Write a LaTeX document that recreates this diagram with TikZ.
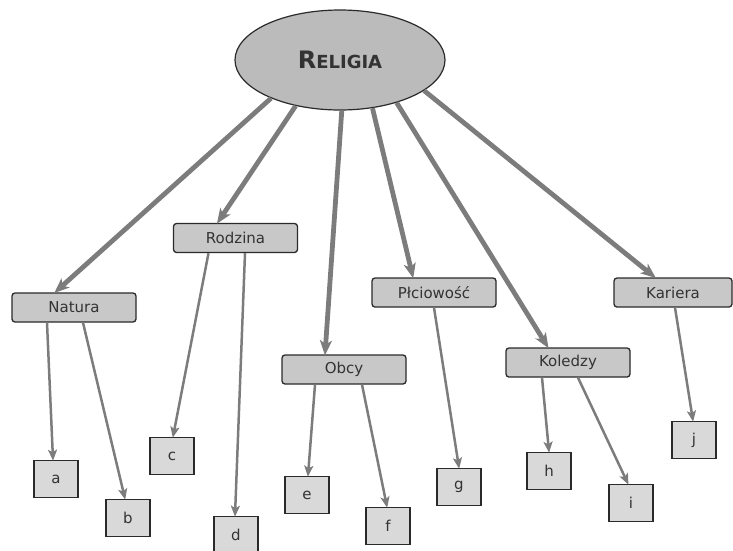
\documentclass[tikz,border=0pt]{standalone}
\usepackage{fontspec}
\setmainfont{DejaVu Sans}
\usetikzlibrary{arrows.meta,shapes.geometric}

\definecolor{edgegray}{HTML}{7C7C7C}
\definecolor{rootfill}{HTML}{BBBBBB}
\definecolor{topicfill}{HTML}{C8C8C8}
\definecolor{leaffill}{HTML}{D9D9D9}
\definecolor{inkline}{HTML}{2A2A2A}

\tikzset{
  root/.style={ellipse, draw=inkline, line width=1.2pt, fill=rootfill,
    minimum width=210pt, minimum height=100pt, inner sep=0pt},
  topic/.style={rectangle, rounded corners=3pt, draw=inkline, line width=1.3pt,
    fill=topicfill, minimum width=124pt, minimum height=29pt, inner sep=0pt,
    font=\fontsize{15}{17}\selectfont, text=black!80},
  leaf/.style={rectangle, draw=inkline, line width=1.6pt, fill=leaffill,
    minimum width=44pt, minimum height=37pt, inner sep=0pt,
    font=\fontsize{15}{17}\selectfont, text=black!80},
  mainlink/.style={draw=edgegray, line width=4.8pt,
    -{Stealth[length=15pt,width=12pt,inset=4pt]}, shorten >=-1pt},
  sublink/.style={draw=edgegray, line width=2.5pt,
    -{Stealth[length=11pt,width=9pt,inset=2.5pt]}, shorten >=-1pt},
}

\begin{document}
\begin{tikzpicture}[x=1pt, y=-1pt]
  \useasboundingbox (0,0) rectangle (733,550);

  % central concept
  \node[root] (rel) at (340,60)
    {\textcolor{black!80}{\fontsize{24}{26}\selectfont\bfseries R\fontsize{18}{26}\selectfont ELIGIA}};

  % first level
  \node[topic] (natura)    at (74,307.5)  {Natura};
  \node[topic] (rodzina)   at (235.5,238) {Rodzina};
  \node[topic] (obcy)      at (344,369.5) {Obcy};
  \node[topic] (plciowosc) at (434,292.5) {Płciowość};
  \node[topic] (koledzy)   at (568,362.5) {Koledzy};
  \node[topic, minimum width=118pt] (kariera) at (673,292.5) {Kariera};

  % second level
  \node[leaf] (a) at (56,479)  {a};
  \node[leaf] (b) at (128,518) {b};
  \node[leaf] (c) at (172,456) {c};
  \node[leaf] (d) at (236,535) {d};
  \node[leaf] (e) at (307,495) {e};
  \node[leaf] (f) at (388,526) {f};
  \node[leaf] (g) at (459,487) {g};
  \node[leaf] (h) at (549,471) {h};
  \node[leaf] (i) at (631,503) {i};
  \node[leaf] (j) at (694,440) {j};

  % links from the centre
  \draw[mainlink] (rel.209)   -- ([xshift=-19pt]natura.north);
  \draw[mainlink] (rel.226)   -- ([xshift=-18pt]rodzina.north);
  \draw[mainlink] (rel.272)   -- ([xshift=-19pt]obcy.north);
  \draw[mainlink] (rel.304.5) -- ([xshift=-21pt]plciowosc.north);
  \draw[mainlink] (rel.323.7) -- ([xshift=-20pt]koledzy.north);
  \draw[mainlink] (rel.340)   -- ([xshift=-18pt]kariera.north);

  % links to the leaves
  \draw[sublink] ([xshift=-27pt]natura.south)  -- ([xshift=-3pt]a.north);
  \draw[sublink] ([xshift=9pt]natura.south)    -- ([xshift=-3pt]b.north);
  \draw[sublink] ([xshift=-27pt]rodzina.south) -- ([xshift=1pt]c.north);
  \draw[sublink] ([xshift=9.5pt]rodzina.south) -- ([xshift=-1pt]d.north);
  \draw[sublink] ([xshift=-29pt]obcy.south)    -- ([xshift=1pt]e.north);
  \draw[sublink] ([xshift=18pt]obcy.south)     -- ([xshift=-1pt]f.north);
  \draw[sublink] (plciowosc.south)             -- (g.north);
  \draw[sublink] ([xshift=-26pt]koledzy.south) -- (h.north);
  \draw[sublink] ([xshift=10pt]koledzy.south)  -- ([xshift=-3pt]i.north);
  \draw[sublink] ([xshift=2pt]kariera.south)   -- ([xshift=-1pt]j.north);
\end{tikzpicture}
\end{document}
